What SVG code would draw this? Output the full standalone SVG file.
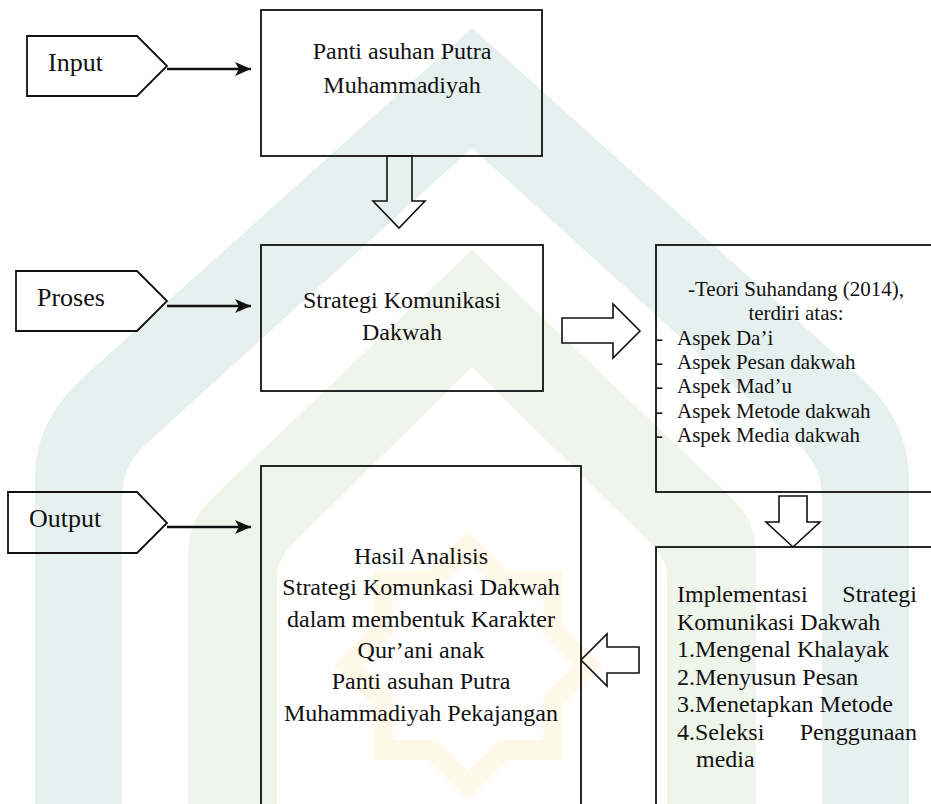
<svg xmlns="http://www.w3.org/2000/svg" width="931" height="804" viewBox="0 0 931 804">
<defs>
<style>
.box{fill:none;stroke:#111;stroke-width:1.8}
.tag{fill:none;stroke:#111;stroke-width:1.8;stroke-linejoin:miter}
.blk{fill:none;stroke:#111;stroke-width:1.6;stroke-linejoin:miter}
.con{fill:none;stroke:#111;stroke-width:2.3}
.lab{font-size:26px}
.t24{font-size:24px}
.t21{font-size:21px}
.mid{text-anchor:middle}
.end{text-anchor:end}
</style>
<marker id="ah" markerUnits="userSpaceOnUse" viewBox="-17 -8 18 16" markerWidth="18" markerHeight="16" refX="0" refY="0" orient="auto">
<path d="M0,0 L-16,-7 L-12,0 L-16,7 Z" fill="#111"/>
</marker>
</defs>
<rect width="931" height="804" fill="#fff"/>
<g id="watermark">
<path fill="#e6f0ee" fill-rule="evenodd" d="M35 804 V480 C35 440 50 410 80 380 L472 28 L864 380 C894 410 909 440 909 480 V804 Z M122 804 V500 C122 475 130 460 145 445 L472 148 L799 445 C814 460 822 475 822 500 V804 Z"/>
<path fill="#eff5ea" fill-rule="evenodd" d="M188 804 V560 C188 530 195 515 210 500 L472 250 L734 500 C749 515 756 530 756 560 V804 Z M277 804 V580 C277 565 282 555 292 545 L472 367 L652 545 C662 555 667 565 667 580 V804 Z"/>
<polygon fill="none" stroke="#fdf8e7" stroke-width="20" points="468,545 503.2,580 552.9,580.1 553,629.8 588,665 553,700.2 552.9,749.9 503.2,750 468,785 432.8,750 383.1,749.9 383,700.2 348,665 383,629.8 383.1,580.1 432.8,580"/>
</g>
<g id="connectors">
<line class="con" x1="167" y1="69" x2="251" y2="69" marker-end="url(#ah)"/>
<line class="con" x1="167" y1="306" x2="251" y2="306" marker-end="url(#ah)"/>
<line class="con" x1="167" y1="527" x2="251" y2="527" marker-end="url(#ah)"/>
<polygon class="blk" points="387,156 412,156 412,201 425,201 399,228 373,201 387,201"/>
<polygon class="blk" points="562,318 613,318 613,304 640,331 613,358 613,343 562,343"/>
<polygon class="blk" points="779,496 807,496 807,522 820,522 793,547 766,522 779,522"/>
<polygon class="blk" points="639,647 607,647 607,634 581,660 607,686 607,673 639,673"/>
</g>
<g font-family="'Liberation Serif', 'DejaVu Serif', serif" fill="#111">
<g id="input">
<polygon class="tag" points="27,36 137,36 167,66 137,96 27,96"/>
<text class="lab" x="48" y="71">Input</text>
</g>
<g id="proses">
<polygon class="tag" points="16,271 137,271 167,301 137,331 16,331"/>
<text class="lab" x="37" y="306">Proses</text>
</g>
<g id="output">
<polygon class="tag" points="8,492 137,492 167,523 137,553 8,553"/>
<text class="lab" x="29" y="527">Output</text>
</g>
<g id="panti">
<rect class="box" x="261" y="10" width="281" height="146"/>
<text class="t24 mid" x="402" y="59">Panti asuhan Putra</text>
<text class="t24 mid" x="402" y="93">Muhammadiyah</text>
</g>
<g id="strategi">
<rect class="box" x="261" y="245" width="282" height="146"/>
<text class="t24 mid" x="402" y="308">Strategi Komunikasi</text>
<text class="t24 mid" x="402" y="340">Dakwah</text>
</g>
<g id="teori">
<rect class="box" x="656" y="245" width="285" height="247"/>
<text class="t21 mid" x="796" y="296">-Teori Suhandang (2014),</text>
<text class="t21 mid" x="796" y="320">terdiri atas:</text>
<text class="t21" x="656" y="345">-</text><text class="t21" x="677" y="345">Aspek Da’i</text>
<text class="t21" x="656" y="369">-</text><text class="t21" x="677" y="369">Aspek Pesan dakwah</text>
<text class="t21" x="656" y="393">-</text><text class="t21" x="677" y="393">Aspek Mad’u</text>
<text class="t21" x="656" y="418">-</text><text class="t21" x="677" y="418">Aspek Metode dakwah</text>
<text class="t21" x="656" y="442">-</text><text class="t21" x="677" y="442">Aspek Media dakwah</text>
</g>
<g id="hasil">
<rect class="box" x="261" y="466" width="320" height="350"/>
<text class="t24 mid" x="421" y="564">Hasil Analisis</text>
<text class="t24 mid" x="421" y="595">Strategi Komunkasi Dakwah</text>
<text class="t24 mid" x="421" y="627">dalam membentuk Karakter</text>
<text class="t24 mid" x="421" y="658">Qur’ani anak</text>
<text class="t24 mid" x="421" y="689">Panti asuhan Putra</text>
<text class="t24 mid" x="421" y="721">Muhammadiyah Pekajangan</text>
</g>
<g id="implementasi">
<rect class="box" x="656" y="547" width="285" height="270"/>
<text class="t24" x="677" y="602">Implementasi</text><text class="t24 end" x="917" y="602">Strategi</text>
<text class="t24" x="677" y="630">Komunikasi Dakwah</text>
<text class="t24" x="677" y="657">1.Mengenal Khalayak</text>
<text class="t24" x="677" y="685">2.Menyusun Pesan</text>
<text class="t24" x="677" y="712">3.Menetapkan Metode</text>
<text class="t24" x="677" y="740">4.Seleksi</text><text class="t24 end" x="917" y="740">Penggunaan</text>
<text class="t24" x="696" y="767">media</text>
</g>
</g>
</svg>
